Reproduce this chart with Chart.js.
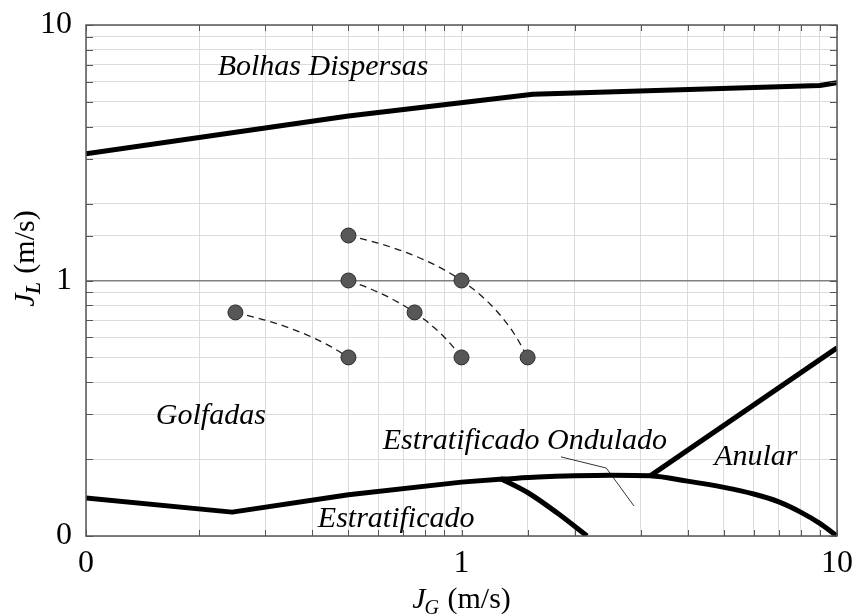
<!DOCTYPE html>
<html><head><meta charset="utf-8">
<script src="https://cdn.jsdelivr.net/npm/chart.js@4.4.1/dist/chart.umd.min.js"></script>
<style>html,body{margin:0;padding:0;background:#fff}</style>
</head><body>
<canvas id="c" width="853" height="614"></canvas>
<script>
// ---- data (JG, JL in m/s) ----
const bolhasBoundary = [[0.1,3.13],[0.5,4.4],[1.55,5.36],[9.0,5.8],[10,5.94]];
const golfadasBoundaryLeft = [[0.1,0.141],[0.245,0.124],[0.5,0.145],[1.0,0.1625],[1.29,0.167]];
const golfadasBoundaryRight = [[1.29,0.167],[1.6,0.170],[2.0,0.172],[2.5,0.173],[3.18,0.172],[4,0.164],[5,0.155],[6,0.146],[7,0.136],[8,0.124],[9,0.112],[10,0.1]];
const estratBoundary = [[1.27,0.168],[1.5,0.148],[1.8,0.123],[2.16,0.1]];
const anularBoundary = [[3.18,0.172],[10,0.545]];
const ondLeader = [[1.84,0.204],[2.43,0.1845],[2.88,0.131]];
const dashed1 = [[0.25,0.75],[0.3,0.70],[0.35,0.65],[0.4,0.60],[0.45,0.55],[0.5,0.5]];
const dashed2 = [[0.5,1.0],[0.55,0.95],[0.6,0.9],[0.65,0.85],[0.7,0.8],[0.75,0.75],[0.8,0.7],[0.85,0.65],[0.9,0.6],[0.95,0.55],[1.0,0.5]];
const dashed3 = [[0.5,1.5],[0.6,1.4],[0.7,1.3],[0.8,1.2],[0.9,1.1],[1.0,1.0],[1.1,0.9],[1.2,0.8],[1.3,0.7],[1.4,0.6],[1.5,0.5]];
const testPointsJG = [0.25,0.5,0.5,0.75,1.0,0.5,1.0,1.5];
const testPointsJL = [0.75,0.5,1.0,0.75,0.5,1.5,1.0,0.5];
const tickLabelMap = {'0.1':'0','1':'1','10':'10'};
const regionLabels = [
  {text:'Bolhas Dispersas', x:0.428, y:6.86},
  {text:'Golfadas', x:0.215, y:0.295},
  {text:'Estratificado Ondulado', x:1.475, y:0.236},
  {text:'Anular', x:6.08, y:0.204},
  {text:'Estratificado', x:0.67, y:0.1166}
];

const pts = a => a.map(p => ({x:p[0], y:p[1]}));
const SERIF = '"Liberation Serif","Times New Roman",serif';

function isDecade(v){ const l=Math.log10(v); return Math.abs(l-Math.round(l))<1e-9; }
function tickLabel(v){ return isDecade(v) ? (tickLabelMap[String(Number(v.toPrecision(6)))] ?? '') : ''; }

const boldLine = (data, curved) => ({data:pts(data), showLine:true, borderColor:'#000', borderWidth:5, pointRadius:0, fill:false, order:2, borderJoinStyle:'round', borderCapStyle:'butt', cubicInterpolationMode: curved ? 'monotone' : 'default', tension: 0});
const dashLine = (data) => ({data:pts(data), showLine:true, borderColor:'#1a1a1a', borderWidth:1.3, borderDash:[7,5], pointRadius:0, fill:false, order:1, cubicInterpolationMode:'monotone'});

const decorPlugin = {
  id:'decor',
  afterDatasetsDraw(chart){
    const {ctx, chartArea:a, scales:{x, y}} = chart;
    ctx.save();
    // inside tick marks
    ctx.strokeStyle = '#555'; ctx.lineWidth = 1;
    x.ticks.forEach(t => {
      const px = Math.round(x.getPixelForValue(t.value))+0.5;
      ctx.beginPath(); ctx.moveTo(px,a.top); ctx.lineTo(px,a.top+6); ctx.moveTo(px,a.bottom); ctx.lineTo(px,a.bottom-6); ctx.stroke();
    });
    y.ticks.forEach(t => {
      const py = Math.round(y.getPixelForValue(t.value))+0.5;
      ctx.beginPath(); ctx.moveTo(a.left,py); ctx.lineTo(a.left+7,py); ctx.moveTo(a.right,py); ctx.lineTo(a.right-7,py); ctx.stroke();
    });
    // frame
    ctx.strokeStyle = '#555'; ctx.lineWidth = 1.5;
    ctx.strokeRect(a.left, a.top, a.right-a.left, a.bottom-a.top);
    // region labels
    ctx.fillStyle = '#000';
    ctx.font = 'italic 30px ' + SERIF;
    ctx.textAlign = 'center'; ctx.textBaseline = 'middle';
    regionLabels.forEach(l => ctx.fillText(l.text, x.getPixelForValue(l.x), y.getPixelForValue(l.y)));
    // axis titles
    function title(cx, cy, rot, sub, subBold){
      ctx.save(); ctx.translate(cx, cy); ctx.rotate(rot);
      ctx.textAlign='left'; ctx.textBaseline='alphabetic';
      const fJ = 'italic 30px '+SERIF, fS = 'italic '+(subBold?'bold ':'')+'20px '+SERIF, fR = '30px '+SERIF;
      ctx.font=fJ; const wJ=ctx.measureText('J').width;
      ctx.font=fS; const wS=ctx.measureText(sub).width;
      ctx.font=fR; const wR=ctx.measureText(' (m/s)').width;
      let sx = -(wJ+wS+wR)/2;
      ctx.font=fJ; ctx.fillText('J', sx, 10); sx+=wJ;
      ctx.font=fS; ctx.fillText(sub, sx-1, 16); sx+=wS;
      ctx.font=fR; ctx.fillText(' (m/s)', sx, 10);
      ctx.restore();
    }
    title((a.left+a.right)/2, 598, 0, 'G', false);
    title(24, y.getPixelForValue(1) - 22, -Math.PI/2, 'L', true);
    ctx.restore();
  }
};

new Chart(document.getElementById('c'), {
  type:'scatter',
  data:{datasets:[
    boldLine(bolhasBoundary, false),
    boldLine(golfadasBoundaryLeft, false),
    boldLine(golfadasBoundaryRight, true),
    boldLine(estratBoundary, true),
    boldLine(anularBoundary, false),
    {data:pts(ondLeader), showLine:true, borderColor:'#000', borderWidth:0.8, pointRadius:0, order:2},
    dashLine(dashed1), dashLine(dashed2), dashLine(dashed3),
    {data:testPointsJG.map((v,i)=>({x:v, y:testPointsJL[i]})), showLine:false, pointRadius:7.5, pointBackgroundColor:'#575757', pointBorderColor:'#2a2a2a', pointBorderWidth:1, order:0}
  ]},
  options:{
    responsive:false, animation:false, devicePixelRatio:1,
    layout:{padding:{top:25, right:16, left:0, bottom:0}},
    plugins:{legend:{display:false}, tooltip:{enabled:false}},
    scales:{
      x:{type:'logarithmic', min:0.1, max:10,
        afterFit(s){ s.height = 78; s.paddingLeft = 0; s.paddingRight = 0; },
        border:{display:false},
        grid:{drawTicks:false, color:'#dcdcdc', lineWidth:1},
        ticks:{autoSkip:false, maxRotation:0, padding:8, color:'#000', font:{family:SERIF, size:32}, callback:(v)=>tickLabel(v)}
      },
      y:{type:'logarithmic', min:0.1, max:10,
        afterFit(s){ s.width = 86; s.paddingTop = 0; s.paddingBottom = 0; },
        border:{display:false},
        grid:{drawTicks:false, color:c => (c.tick && Math.abs(c.tick.value-1)<1e-9) ? '#808080' : '#dcdcdc', lineWidth:c => (c.tick && Math.abs(c.tick.value-1)<1e-9) ? 1.5 : 1},
        ticks:{autoSkip:false, padding:14, color:'#000', font:{family:SERIF, size:32}, callback:(v)=>tickLabel(v)}
      }
    }
  },
  plugins:[decorPlugin]
});
</script>
</body></html>
